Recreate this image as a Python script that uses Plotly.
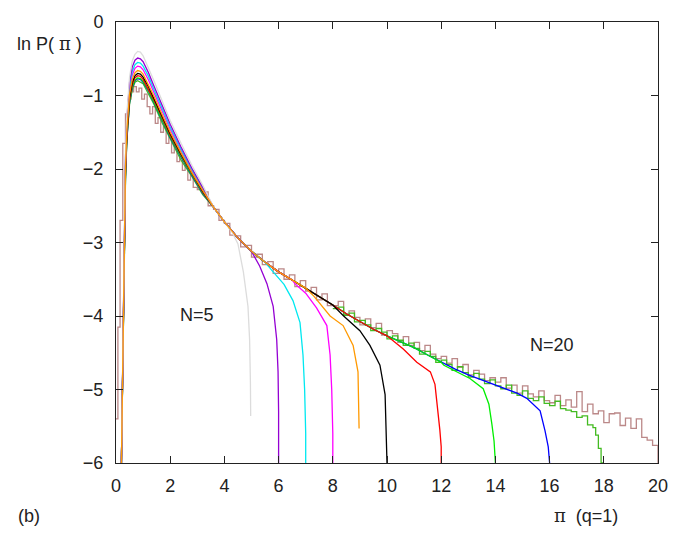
import numpy as np
import plotly.graph_objects as go

# ---------------- data ----------------
HEAD_X = [0.20, 0.25, 0.30, 0.35, 0.40, 0.50, 0.60, 0.70, 0.80, 0.90, 1.00,
          1.20, 1.40, 1.70, 2.00, 2.40, 2.80, 3.20]
HEAD_N5 = [-6.0, -4.4, -2.7, -1.75, -1.25, -0.75, -0.53, -0.44, -0.40, -0.41, -0.46,
           -0.62, -0.80, -1.07, -1.34, -1.65, -1.95, -2.22]
HEAD_N6 = [-6.0, -4.5, -2.8, -1.85, -1.33, -0.82, -0.61, -0.52, -0.49, -0.50, -0.54,
           -0.69, -0.87, -1.13, -1.39, -1.70, -1.99, -2.25]
HEAD_N7 = [-6.0, -4.5, -2.8, -1.90, -1.38, -0.88, -0.67, -0.58, -0.55, -0.56, -0.60,
           -0.74, -0.92, -1.17, -1.43, -1.73, -2.01, -2.26]
HEAD_N8 = [-6.0, -4.55, -2.85, -1.93, -1.42, -0.93, -0.72, -0.63, -0.60, -0.61, -0.65,
           -0.79, -0.96, -1.20, -1.46, -1.75, -2.03, -2.28]
HEAD_N9 = [-6.0, -4.6, -2.9, -1.97, -1.47, -0.98, -0.78, -0.69, -0.66, -0.67, -0.71,
           -0.85, -1.01, -1.26, -1.50, -1.78, -2.05, -2.29]
HEAD_N10 = [-6.0, -4.6, -2.9, -2.00, -1.50, -1.02, -0.82, -0.73, -0.70, -0.71, -0.75,
            -0.88, -1.04, -1.28, -1.52, -1.80, -2.06, -2.30]
HEAD_N12 = [-6.0, -4.6, -2.95, -2.05, -1.55, -1.05, -0.85, -0.76, -0.73, -0.74, -0.78,
            -0.91, -1.06, -1.30, -1.54, -1.81, -2.07, -2.31]
HEAD_N14 = [-6.0, -4.7, -3.0, -2.10, -1.58, -1.08, -0.88, -0.79, -0.76, -0.77, -0.81,
            -0.93, -1.09, -1.32, -1.56, -1.83, -2.08, -2.32]
HEAD_N16 = [-6.0, -4.7, -3.0, -2.10, -1.60, -1.09, -0.89, -0.80, -0.77, -0.78, -0.82,
            -0.94, -1.10, -1.33, -1.57, -1.84, -2.09, -2.33]
HEAD_N18 = [-6.0, -4.8, -3.1, -2.15, -1.62, -1.12, -0.92, -0.82, -0.80, -0.82, -0.84,
            -0.98, -1.12, -1.37, -1.58, -1.88, -2.10, -2.35]

# common envelope beyond the peak
ENV_X = [3.2, 3.6, 4.0, 4.5, 5.0, 5.5, 6.0, 6.5, 7.0, 7.5, 8.0, 8.5, 9.0, 9.5, 10.0,
         10.5, 11.0, 11.5, 12.0, 12.5, 13.0, 13.5, 14.0, 14.5, 15.0, 15.5, 16.0,
         16.5, 17.0, 17.5, 18.0]
ENV_Y = [-2.30, -2.52, -2.72, -2.94, -3.12, -3.27, -3.40, -3.51, -3.62, -3.74, -3.85,
         -3.97, -4.08, -4.18, -4.27, -4.35, -4.43, -4.53, -4.63, -4.72, -4.80, -4.87,
         -4.94, -5.01, -5.07, -5.13, -5.20, -5.26, -5.32, -5.38, -5.45]

# cut-off part of each finite-N curve
DROP_X_N5 = [4.3, 4.5, 4.7, 4.87, 4.93, 4.96, 4.97]
DROP_Y_N5 = [-2.87, -3.02, -3.40, -3.87, -4.32, -4.90, -5.36]
DROP_X_N6 = [5.06, 5.3, 5.57, 5.8, 5.93, 5.98, 6.0, 6.0]
DROP_Y_N6 = [-3.16, -3.32, -3.56, -3.87, -4.32, -4.76, -5.30, -6.0]
DROP_X_N7 = [5.8, 6.2, 6.53, 6.79, 6.9, 6.96, 7.0, 7.0]
DROP_Y_N7 = [-3.40, -3.57, -3.79, -4.09, -4.53, -5.00, -5.60, -6.0]
DROP_X_N8 = [6.6, 7.0, 7.4, 7.78, 7.9, 7.96, 8.0, 8.0]
DROP_Y_N8 = [-3.56, -3.69, -3.89, -4.13, -4.53, -5.00, -5.60, -6.0]
DROP_X_N9 = [7.3, 7.9, 8.38, 8.75, 8.93, 8.97]
DROP_Y_N9 = [-3.73, -4.00, -4.13, -4.40, -4.76, -5.53]
DROP_X_N10 = [8.4, 9.0, 9.37, 9.74, 9.93, 9.98, 10.0]
DROP_Y_N10 = [-4.00, -4.20, -4.40, -4.67, -5.07, -5.60, -6.0]
DROP_X_N12 = [10.1, 10.6, 11.1, 11.6, 11.77, 11.88, 11.95, 12.0, 12.0]
DROP_Y_N12 = [-4.30, -4.45, -4.63, -4.76, -4.93, -5.29, -5.55, -5.78, -6.0]
DROP_X_N14 = [12.1, 12.6, 13.06, 13.55, 13.76, 13.87, 13.95, 14.0]
DROP_Y_N14 = [-4.67, -4.76, -4.85, -4.99, -5.20, -5.47, -5.70, -6.0]
DROP_X_N16 = [14.3, 14.8, 15.16, 15.4, 15.65, 15.83, 15.95, 16.0]
DROP_Y_N16 = [-4.99, -5.05, -5.12, -5.20, -5.29, -5.56, -5.78, -6.0]

# noisy histogram tail of N=18 (bins of 0.2 from 8.0 to 17.6, then 17.7..18.0)
N18_TAIL_Y = [-3.90, -3.88, -3.99, -3.96, -4.08, -4.06, -4.12, -4.20, -4.17, -4.22,
              -4.31, -4.27, -4.33, -4.40, -4.37, -4.44, -4.52, -4.48, -4.55, -4.63,
              -4.60, -4.66, -4.74, -4.69, -4.77, -4.83, -4.78, -4.86, -4.92, -4.87,
              -4.95, -4.99, -4.94, -5.05, -5.08, -5.02, -5.12, -5.15, -5.10, -5.19,
              -5.22, -5.16, -5.26, -5.28, -5.30, -5.38, -5.36, -5.48, -5.52, -5.62,
              -5.80, -6.0, -6.0]

# noisy histogram of N=20
N20_HEAD_X = [0.0, 0.07, 0.15, 0.25, 0.35, 0.45, 0.55, 0.65, 0.75, 0.85, 0.95, 1.05,
              1.15, 1.25, 1.35, 1.45, 1.55, 1.65, 1.75, 1.85, 1.95, 2.05, 2.15, 2.25,
              2.35, 2.45, 2.55, 2.65, 2.75, 2.85]
N20_HEAD_Y = [-5.40, -4.15, -2.70, -1.65, -1.25, -1.05, -0.95, -0.88, -0.95, -0.90,
              -1.05, -0.98, -1.15, -1.25, -1.15, -1.38, -1.30, -1.50, -1.42, -1.65,
              -1.55, -1.78, -1.68, -1.90, -1.82, -2.02, -1.95, -2.15, -2.06, -2.25]
N20_MID_Y = [-2.28, -2.31, -2.50, -2.55, -2.70, -2.74, -2.90, -2.91, -3.06, -3.04,
             -3.20, -3.16, -3.30, -3.26, -3.42, -3.36, -3.50, -3.44, -3.60, -3.52,
             -3.66, -3.61, -3.78, -3.70, -3.86]
N20_TAIL_Y = [-3.86, -3.80, -3.98, -3.93, -4.02, -4.12, -4.04, -4.16, -4.10, -4.26,
              -4.20, -4.24, -4.36, -4.28, -4.40, -4.36, -4.47, -4.40, -4.52, -4.58,
              -4.55, -4.64, -4.58, -4.70, -4.66, -4.80, -4.74, -4.79, -4.88, -4.84,
              -4.90, -4.84, -4.98, -4.94, -5.05, -4.95, -5.06, -5.10, -5.02, -5.15,
              -5.18, -5.08, -5.22, -5.14, -5.24, -5.03, -5.30, -5.20, -5.33, -5.29,
              -5.45, -5.33, -5.32, -5.49, -5.39, -5.53, -5.40, -5.65, -5.69, -5.76,
              -6.0]

COLORS = {5: "#dcdcdc", 6: "#9400d3", 7: "#00e8f0", 8: "#ff00ff", 9: "#ff9900",
          10: "#000000", 12: "#ff0000", 14: "#00ee00", 16: "#0000ff", 18: "#44bb22",
          20: "#bb8888"}

# ---------------- figure ----------------
fig = go.Figure()
LW = 1.3


def curve(head, depart, dx, dy):
    xs = list(HEAD_X)
    ys = list(head)
    for ex, ey in zip(ENV_X[1:], ENV_Y[1:]):
        if ex < depart:
            xs.append(ex)
            ys.append(ey)
    return xs + list(dx), ys + list(dy)


# N = 20 (bottom layer)
x20 = list(N20_HEAD_X) + list(np.round(np.arange(3.0, 7.9, 0.2), 2)) + \
      list(np.round(np.arange(8.0, 20.01, 0.2), 2))
y20 = list(N20_HEAD_Y) + list(N20_MID_Y) + list(N20_TAIL_Y)
fig.add_trace(go.Scatter(x=x20, y=y20, mode="lines", line_shape="hv",
                         line=dict(color=COLORS[20], width=LW)))

# N = 18
xs18 = list(HEAD_X) + [e for e in ENV_X[1:] if e <= 8.0]
ys18 = list(HEAD_N18) + [v for e, v in zip(ENV_X[1:], ENV_Y[1:]) if e <= 8.0]
fig.add_trace(go.Scatter(x=xs18, y=ys18, mode="lines",
                         line=dict(color=COLORS[18], width=LW)))
x18t = list(np.round(np.arange(8.0, 17.61, 0.2), 2)) + [17.7, 17.8, 17.9, 18.0]
fig.add_trace(go.Scatter(x=x18t, y=N18_TAIL_Y, mode="lines", line_shape="hv",
                         line=dict(color=COLORS[18], width=LW)))

series = [
    (16, HEAD_N16, 14.25, DROP_X_N16, DROP_Y_N16),
    (14, HEAD_N14, 12.05, DROP_X_N14, DROP_Y_N14),
    (12, HEAD_N12, 10.05, DROP_X_N12, DROP_Y_N12),
    (10, HEAD_N10, 8.35, DROP_X_N10, DROP_Y_N10),
    (8, HEAD_N8, 6.55, DROP_X_N8, DROP_Y_N8),
    (7, HEAD_N7, 5.75, DROP_X_N7, DROP_Y_N7),
    (6, HEAD_N6, 5.05, DROP_X_N6, DROP_Y_N6),
    (5, HEAD_N5, 4.25, DROP_X_N5, DROP_Y_N5),
    (9, HEAD_N9, 7.25, DROP_X_N9, DROP_Y_N9),
]
for n, head, dep, dx, dy in series:
    xs, ys = curve(head, dep, dx, dy)
    fig.add_trace(go.Scatter(x=xs, y=ys, mode="lines",
                             line=dict(color=COLORS[n], width=LW)))

FONT = "Liberation Sans, Arial, Helvetica, sans-serif"
axis_common = dict(showgrid=False, zeroline=False, showline=True, linecolor="#222",
                   linewidth=1, mirror="allticks", ticks="inside", ticklen=7,
                   tickcolor="#222", tickwidth=1,
                   tickfont=dict(family=FONT, size=18, color="#222"))
fig.update_xaxes(range=[0, 20], tickvals=list(range(0, 21, 2)),
                 ticklabelstandoff=6, **axis_common)
fig.update_yaxes(range=[-6, 0], tickvals=list(range(-6, 1)),
                 ticklabelstandoff=8, **axis_common)

L, R, T, B = 116, 39, 13, 73
pw, ph = 697 - L - R, 536 - T - B
ann = [
    (15, 35, 'ln P( <span style="font-family:DejaVu Serif">π</span> )'),
    (16, 517, "(b)"),
    (552, 517, '<span style="font-family:DejaVu Serif">π</span>  (q=1)'),
    (178, 312, "N=5"),
    (528, 343, "N=20"),
]
annotations = [dict(x=(px - L) / pw, y=1 - (py - T) / ph, xref="paper", yref="paper",
                    text=t, showarrow=False, xanchor="left", yanchor="middle",
                    font=dict(family=FONT, size=18, color="#222"))
               for px, py, t in ann]

fig.update_layout(width=697, height=536, margin=dict(l=L, r=R, t=T, b=B),
                  paper_bgcolor="white", plot_bgcolor="white", showlegend=False,
                  annotations=annotations)

fig.write_html("out.html")
